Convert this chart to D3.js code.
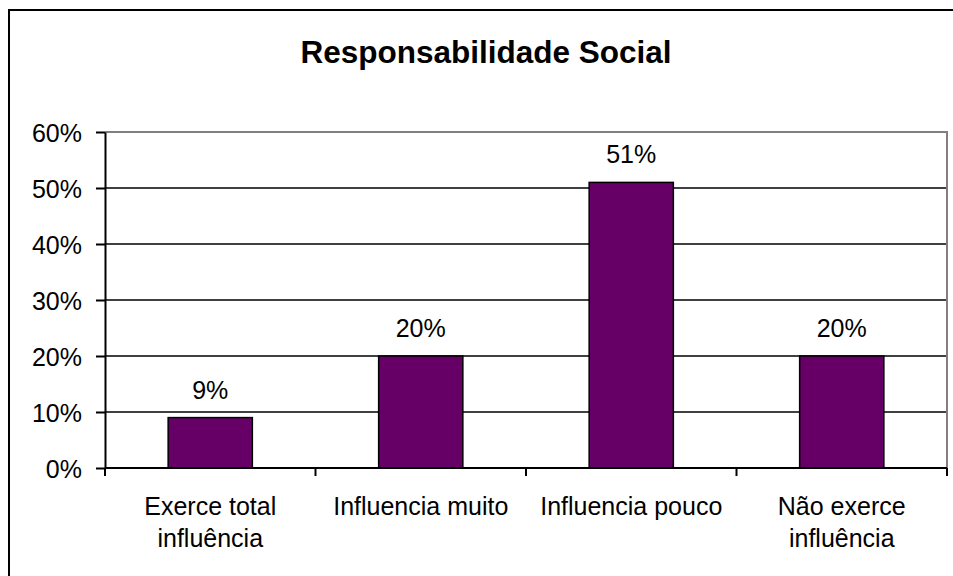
<!DOCTYPE html>
<html>
<head>
<meta charset="utf-8">
<script src="https://cdn.jsdelivr.net/npm/d3@7"></script>
<style>
  body { margin: 0; background: #fff; }
  text { font-family: "Liberation Sans", Arial, sans-serif; fill: #000; }
</style>
</head>
<body>
<div id="chart"></div>
<script>
// Chart data
let categories = ["Exerce total\ninfluência", "Influencia muito", "Influencia pouco", "Não exerce\ninfluência"];
let values = [0.09, 0.20, 0.51, 0.20];
let yTicks = [0, 0.1, 0.2, 0.3, 0.4, 0.5, 0.6];
let title = "Responsabilidade Social";

let width = 953, height = 576;
let labelSize = 25;

// plot area box
let plot = {left: 105, right: 947, top: 132, bottom: 468};

let svg = d3.select("#chart").append("svg")
    .attr("width", width)
    .attr("height", height);

// outer chart border (runs past the right/bottom edge like the reference)
svg.append("rect")
    .attr("x", 9).attr("y", 10)
    .attr("width", 960).attr("height", 580)
    .attr("fill", "white")
    .attr("stroke", "black")
    .attr("stroke-width", 2);

let x = d3.scaleBand()
    .domain(categories)
    .range([plot.left, plot.right])
    .paddingInner(0.6)
    .paddingOuter(0.3);

let y = d3.scaleLinear()
    .domain([0, 0.6])
    .range([plot.bottom, plot.top]);

// title
svg.append("text")
    .attr("x", 486)
    .attr("y", 63)
    .attr("text-anchor", "middle")
    .attr("font-size", 31.5)
    .attr("font-weight", "bold")
    .text(title);

// gridlines
svg.append("g")
    .selectAll("line")
    .data(yTicks.filter(d => d > 0 && d < 0.6))
    .enter()
    .append("line")
    .attr("x1", plot.left).attr("x2", plot.right)
    .attr("y1", d => y(d)).attr("y2", d => y(d))
    .attr("stroke", "black")
    .attr("stroke-width", 1.5);

// plot area border, top and right in gray
svg.append("path")
    .attr("d", "M" + plot.left + "," + y(0.6) + "H" + plot.right + "V" + plot.bottom)
    .attr("fill", "none")
    .attr("stroke", "#808080")
    .attr("stroke-width", 2);

// bars
svg.append("g")
    .selectAll("rect")
    .data(values)
    .enter()
    .append("rect")
    .attr("x", (d, i) => x(categories[i]))
    .attr("width", x.bandwidth())
    .attr("y", d => y(d))
    .attr("height", d => y(0) - y(d))
    .attr("fill", "#660066")
    .attr("stroke", "black")
    .attr("stroke-width", 1.5);

// value labels
svg.append("g")
    .selectAll("text")
    .data(values)
    .enter()
    .append("text")
    .attr("x", (d, i) => x(categories[i]) + x.bandwidth() / 2)
    .attr("y", d => y(d) - 19)
    .attr("text-anchor", "middle")
    .attr("font-size", labelSize)
    .text(d => Math.round(d * 100) + "%");

// y axis
let yAxis = svg.append("g")
    .attr("transform", "translate(" + plot.left + ",0)")
    .call(d3.axisLeft(y)
        .tickValues(yTicks)
        .tickFormat(d3.format(".0%"))
        .tickSize(9)
        .tickSizeOuter(0)
        .tickPadding(14));
yAxis.attr("font-family", null).attr("font-size", null);
yAxis.selectAll("text").attr("font-size", labelSize).attr("dy", "0.36em");
yAxis.selectAll("line").attr("stroke", "black").attr("stroke-width", 2);
yAxis.select(".domain").attr("stroke", "black").attr("stroke-width", 2);

// x axis line with ticks on category boundaries
let boundaries = d3.range(categories.length + 1).map(i => plot.left + i * x.step());
let xAxis = svg.append("g");
xAxis.append("line")
    .attr("x1", plot.left).attr("x2", plot.right)
    .attr("y1", y(0)).attr("y2", y(0))
    .attr("stroke", "black")
    .attr("stroke-width", 2);
xAxis.selectAll(".tick")
    .data(boundaries)
    .enter()
    .append("line")
    .attr("class", "tick")
    .attr("x1", d => d).attr("x2", d => d)
    .attr("y1", y(0)).attr("y2", y(0) + 8)
    .attr("stroke", "black")
    .attr("stroke-width", 2);

// category labels, wrapped
let catLabels = xAxis.selectAll(".cat")
    .data(categories)
    .enter()
    .append("text")
    .attr("class", "cat")
    .attr("text-anchor", "middle")
    .attr("font-size", labelSize);
catLabels.each(function(d) {
    let cx = x(d) + x.bandwidth() / 2;
    d.split("\n").forEach((line, j) => {
        d3.select(this).append("tspan")
            .attr("x", cx)
            .attr("y", 515 + j * 31.5)
            .text(line);
    });
});
</script>
</body>
</html>
